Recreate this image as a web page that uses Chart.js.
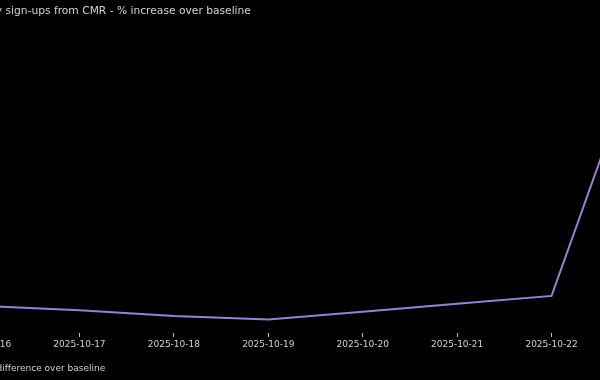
<!DOCTYPE html>
<html lang="en">
<head>
    <meta charset="UTF-8">
    <title>Sign-ups from CMR</title>
    <script src="https://cdn.jsdelivr.net/npm/chart.js@4.4.1/dist/chart.umd.min.js"></script>
    <style>
        html, body {
            margin: 0;
            padding: 0;
            background: #000;
            width: 600px;
            height: 380px;
            overflow: hidden;
        }

        /* chart is wider than the window, left edge sits off screen */
        #wrap {
            position: absolute;
            left: -25px;
            top: 0;
            width: 671px;
            height: 383px;
        }
    </style>
</head>
<body>

<div id="wrap"><canvas id="signupChart"></canvas></div>

<script>
    var days = ['2025-10-16', '2025-10-17', '2025-10-18', '2025-10-19',
                '2025-10-20', '2025-10-21', '2025-10-22', '2025-10-23'];
    var pctIncrease = [8.7, 7.4, 5.5, 4.4, 6.9, 9.5, 12.0, 97.4];
    var chartTitle = 'Daily sign-ups from CMR - % increase over baseline';
    var seriesName = '% difference over baseline';

    var textColor = '#d2d2d2';
    var lineColor = '#9a80d4';

    var ctx = document.getElementById('signupChart').getContext('2d');
    var signupChart = new Chart(ctx, {
        type: 'line',
        data: {
            labels: days,
            datasets: [{
                label: seriesName,
                data: pctIncrease,
                borderColor: lineColor,
                backgroundColor: lineColor,
                borderWidth: 2,
                pointRadius: 0,
                tension: 0,
                fill: false
            }]
        },
        options: {
            responsive: true,
            maintainAspectRatio: false,
            animation: false,
            layout: { padding: 0 },
            plugins: {
                title: {
                    display: true,
                    text: chartTitle,
                    align: 'start',
                    color: textColor,
                    font: { family: 'DejaVu Sans', size: 10.7, weight: 'normal' },
                    padding: { top: 4.5, bottom: 6.7 }
                },
                legend: {
                    position: 'bottom',
                    align: 'start',
                    labels: {
                        color: textColor,
                        font: { family: 'DejaVu Sans', size: 9 },
                        boxWidth: 0,
                        padding: 5.6
                    }
                },
                tooltip: { enabled: false }
            },
            scales: {
                x: {
                    grid: {
                        display: true,
                        drawOnChartArea: false,
                        drawTicks: true,
                        tickLength: 4,
                        color: '#bdbdbd'
                    },
                    border: { display: false },
                    ticks: {
                        color: textColor,
                        font: { family: 'DejaVu Sans', size: 9 },
                        padding: 2,
                        maxRotation: 0,
                        autoSkip: false
                    },
                    afterFit: function(scale) {
                        // keep the first/last labels from pushing the plot inwards
                        scale.paddingLeft = 10;
                        scale.paddingRight = 0;
                        scale.height = 25.4;
                    }
                },
                y: {
                    display: false,
                    min: 0,
                    max: 100
                }
            }
        }
    });
</script>

</body>
</html>
